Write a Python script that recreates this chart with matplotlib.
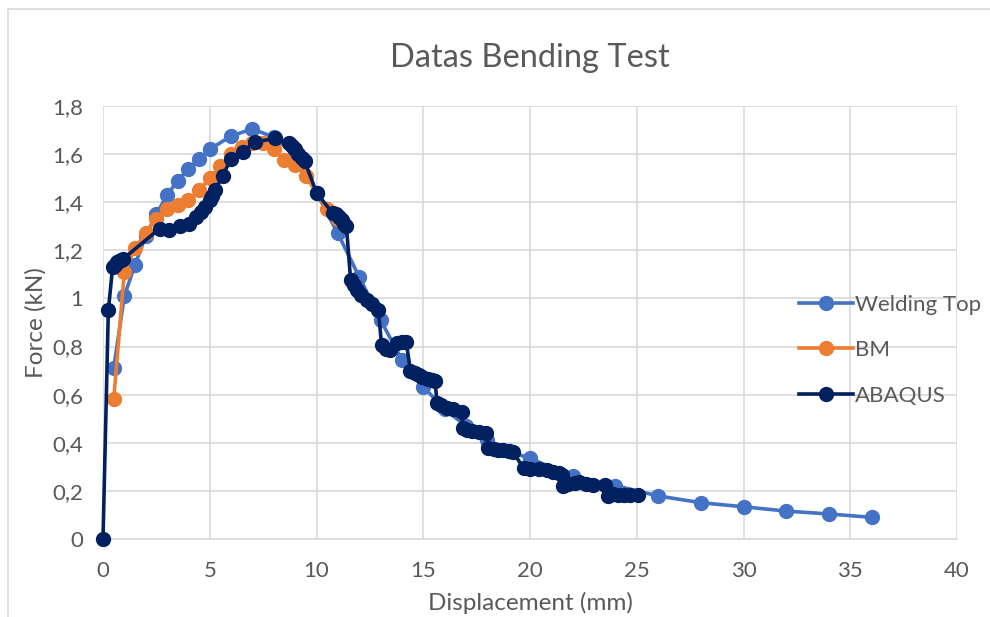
import numpy as np
import matplotlib
matplotlib.use("Agg")
import matplotlib.pyplot as plt
from matplotlib.patches import Rectangle

plt.rcParams['font.family'] = ['Lato', 'DejaVu Sans']

# Welding Top series
weld_x = [0.5, 1, 1.5, 2, 2.5, 3, 3.5, 4, 4.5, 5, 6, 7, 8, 9, 10, 11, 12, 13,
          14, 15, 16, 17, 18, 19, 20, 22, 24, 26, 28, 30, 32, 34, 36]
weld_y = [0.71, 1.01, 1.14, 1.26, 1.35, 1.43, 1.49, 1.54, 1.58, 1.62, 1.675,
          1.705, 1.67, 1.60, 1.44, 1.27, 1.09, 0.91, 0.745, 0.633, 0.54, 0.47,
          0.41, 0.365, 0.335, 0.262, 0.222, 0.179, 0.151, 0.134, 0.116, 0.104,
          0.090]

# BM series
bm_x = [0.5, 1, 1.5, 2, 2.5, 3, 3.5, 4, 4.5, 5, 5.5, 6, 6.5, 7, 7.5, 8, 8.5,
        9, 9.5, 10, 10.5, 11]
bm_y = [0.58, 1.11, 1.21, 1.27, 1.33, 1.37, 1.39, 1.41, 1.45, 1.50, 1.55,
        1.60, 1.63, 1.645, 1.645, 1.62, 1.575, 1.555, 1.51, 1.44, 1.37, 1.33]

# ABAQUS series
abq_x = [0, 0.25, 0.45, 0.55, 0.65, 0.75, 0.85, 0.95, 2.65, 3.1, 3.6, 4.05,
         4.35, 4.6, 4.8, 5.0, 5.1, 5.25, 5.6, 6.0, 6.55, 7.1, 8.05, 8.7, 8.85,
         9.0, 9.15, 9.3, 9.45, 10.0, 10.75, 10.9, 11.05, 11.2, 11.3, 11.4,
         11.6, 11.75, 11.9, 12.1, 12.35, 12.6, 12.9, 13.05, 13.25, 13.45,
         13.75, 14.0, 14.2, 14.4, 14.6, 14.8, 14.95, 15.2, 15.4, 15.55, 15.65,
         15.85, 16.1, 16.4, 16.8, 16.85, 17.05, 17.3, 17.6, 17.95, 18.05,
         18.3, 18.5, 18.75, 19.0, 19.2, 19.7, 20.0, 20.4, 20.8, 21.1, 21.35,
         21.5, 21.55, 21.8, 22.1, 22.3, 22.6, 22.95, 23.5, 23.65, 23.9, 24.1,
         24.4, 24.7, 25.05]
abq_y = [0, 0.95, 1.13, 1.14, 1.15, 1.155, 1.16, 1.165, 1.29, 1.285, 1.30,
         1.31, 1.34, 1.36, 1.38, 1.41, 1.425, 1.45, 1.51, 1.58, 1.61, 1.65,
         1.665, 1.645, 1.635, 1.62, 1.60, 1.585, 1.57, 1.44, 1.355, 1.35,
         1.34, 1.325, 1.31, 1.30, 1.075, 1.055, 1.035, 1.015, 0.995, 0.975,
         0.95, 0.805, 0.79, 0.785, 0.815, 0.82, 0.82, 0.70, 0.69, 0.68, 0.675,
         0.665, 0.66, 0.655, 0.565, 0.555, 0.545, 0.54, 0.53, 0.46, 0.455,
         0.447, 0.443, 0.44, 0.38, 0.375, 0.37, 0.368, 0.365, 0.362, 0.295,
         0.293, 0.29, 0.285, 0.28, 0.275, 0.265, 0.22, 0.228, 0.232, 0.235,
         0.228, 0.224, 0.225, 0.18, 0.185, 0.183, 0.183, 0.182, 0.182]

x_ticks = [0, 5, 10, 15, 20, 25, 30, 35, 40]
y_ticks = [0, 0.2, 0.4, 0.6, 0.8, 1.0, 1.2, 1.4, 1.6, 1.8]
y_tick_labels = ['0', '0,2', '0,4', '0,6', '0,8', '1', '1,2', '1,4', '1,6', '1,8']

text_col = '#595959'
grid_col = '#D9D9D9'

fig = plt.figure(figsize=(9.9, 6.17), dpi=100)
fig.patches.append(Rectangle((8 / 990, -0.1), 1.2, 1 - 9 / 617 + 0.1,
                             transform=fig.transFigure, fill=False,
                             edgecolor=grid_col, linewidth=1.2))
ax = fig.add_axes([103 / 990, 1 - 539 / 617, 854 / 990, 433 / 617])

series = [
    (weld_x, weld_y, '#4472C4', 'Welding Top'),
    (bm_x, bm_y, '#ED7D31', 'BM'),
    (abq_x, abq_y, '#002060', 'ABAQUS'),
]
for xs, ys, col, name in series:
    ax.plot(xs, ys, color=col, linewidth=2.6, marker='o', markersize=10,
            label=name, clip_on=False, zorder=3)

ax.set_xlim(0, 40)
ax.set_ylim(0, 1.8)
ax.set_xticks(x_ticks)
ax.set_yticks(y_ticks)
ax.set_yticklabels(y_tick_labels)
ax.grid(True, color=grid_col, linewidth=1.2)
ax.set_axisbelow(True)
for s in ['top', 'right', 'left']:
    ax.spines[s].set_visible(False)
ax.spines['bottom'].set_color(grid_col)
ax.spines['bottom'].set_linewidth(1.2)
ax.tick_params(axis='x', length=0, labelsize=16, colors=text_col, pad=16)
ax.tick_params(axis='y', length=0, labelsize=16, colors=text_col, pad=14)

ax.set_title('Datas Bending Test', fontsize=23.5, color=text_col, pad=28)
ax.set_xlabel('Displacement (mm)', fontsize=17.5, color=text_col, labelpad=8)
ax.set_ylabel('Force (kN)', fontsize=17.5, color=text_col, labelpad=4)

leg = ax.legend(loc='center left', bbox_to_anchor=(0.805, 0.436),
                frameon=False, fontsize=16, labelcolor=text_col,
                handlelength=2.4, handletextpad=0.1, labelspacing=1.15,
                borderaxespad=0)

fig.savefig('out.png', dpi=100)
